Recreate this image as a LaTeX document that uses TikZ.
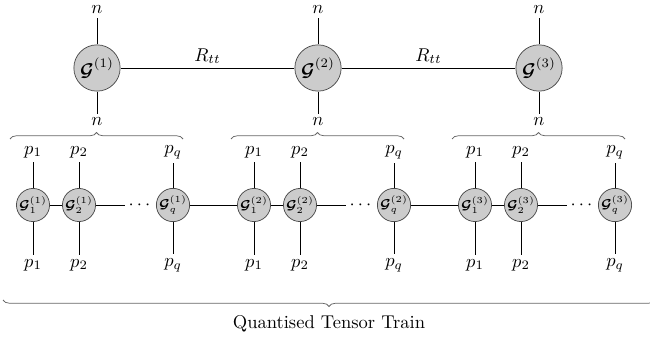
\documentclass[tikz,border=0pt]{standalone}
\usepackage{amsmath,bm}
\usetikzlibrary{decorations.pathreplacing}
\begin{document}
\begin{tikzpicture}[
  x=0.54pt, y=-0.54pt,
  core/.style={circle, draw=black!70, fill=gray!40, minimum size=25pt, inner sep=0pt},
  subcore/.style={circle, draw=black!70, fill=gray!40, minimum size=15pt, inner sep=0pt, font=\scriptsize},
  leg/.style={inner sep=2pt},
  brace/.style={decorate, decoration={brace, amplitude=3.5pt}, draw=black!60}
]
  \useasboundingbox (0,0) rectangle (650,340);
  \foreach \i in {1,2,3} {
    \pgfmathsetmacro{\cx}{97+221*(\i-1)}
    \node[core] (G\i) at (\cx,68) {$\bm{\mathcal{G}}^{(\i)}$};
    \node[leg] (nt\i) at (\cx,10) {$n$};
    \node[leg] (nb\i) at (\cx,122) {$n$};
    \draw (G\i) -- (nt\i);
    \draw (G\i) -- (nb\i);
    \draw[brace] (\cx-87,139) -- (\cx+86,139);
    % quantised cores of G^(i)
    \foreach \k/\dx in {1/-64, 2/-18, q/76} {
      \node[subcore] (g\i\k) at (\cx+\dx,205) {$\bm{\mathcal{G}}_{\k}^{(\i)}$};
      \node[leg] (pt\i\k) at (\cx+\dx,152) {$p_{\k}$};
      \node[leg] (pb\i\k) at (\cx+\dx,265) {$p_{\k}$};
      \draw (g\i\k) -- (pt\i\k);
      \draw (g\i\k) -- (pb\i\k);
    }
    \node[leg] (d\i) at (\cx+44,205) {$\cdots$};
    \draw (g\i1) -- (g\i2);
    \draw (g\i2) -- (d\i);
  }
  \draw (G1) -- node[above, leg] {$R_{tt}$} (G2);
  \draw (G2) -- node[above, leg] {$R_{tt}$} (G3);
  \draw (g1q) -- (g21);
  \draw (g2q) -- (g31);
  \draw[brace, decoration={mirror}] (3,300) -- (655,300)
    node[midway, below=5pt] {Quantised Tensor Train};
\end{tikzpicture}
\end{document}
